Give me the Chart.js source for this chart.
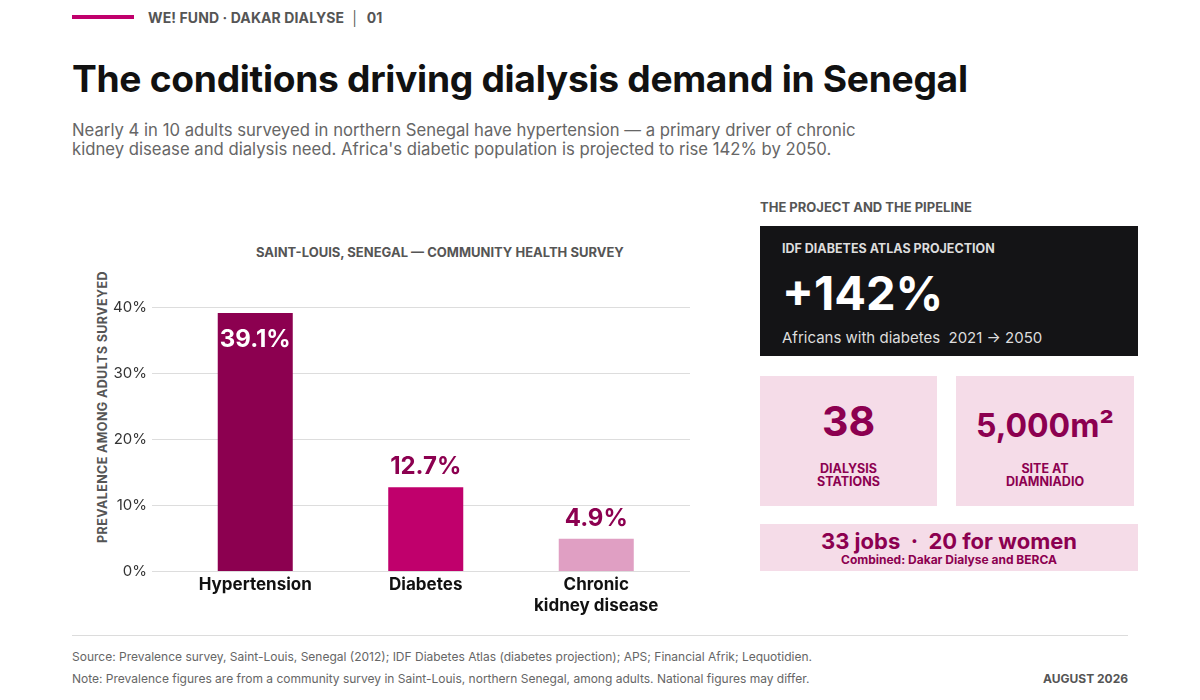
<!DOCTYPE html>
<html>
<head>
<meta charset="utf-8">
<script src="https://cdn.jsdelivr.net/npm/chart.js@4.4.1/dist/chart.umd.min.js"></script>
<style>
  body { margin:0; width:1200px; height:700px; background:#fff; font-family:Inter, "Noto Sans", sans-serif; position:relative; overflow:hidden; }
  .abs { position:absolute; }
  .kicker-bar { left:72px; top:15px; width:62px; height:4px; background:#c0006c; }
  .kicker { left:148px; top:9px; font-size:14px; font-weight:700; color:#555; letter-spacing:0.1px; }
  h1 { position:absolute; left:72px; top:56px; margin:0; font-size:37.2px; font-weight:700; color:#111; letter-spacing:-0.3px; }
  .sub { left:72px; top:121px; font-size:16.7px; line-height:19px; color:#666; width:820px; }
  .ctitle { left:256px; top:244px; font-size:13px; font-weight:700; color:#555; }
  .ytitle { left:102px; top:407px; font-size:12.5px; font-weight:700; color:#555; letter-spacing:0.4px; transform:translate(-50%,-50%) rotate(-90deg); white-space:nowrap; }
  .ptitle { left:760px; top:199px; font-size:13px; font-weight:700; color:#555; }
  .dark { left:760px; top:226px; width:378px; height:130px; background:#141416; }
  .pink { background:#f5dce8; color:#8c0050; text-align:center; font-weight:700; }
  .foot-line { left:72px; top:635px; width:1056px; height:1px; background:#dcdcdc; }
  .foot { left:72px; font-size:12px; color:#666; }
</style>
</head>
<body>
<div class="abs kicker-bar"></div>
<div class="abs kicker">WE! FUND · DAKAR DIALYSE &nbsp;│&nbsp; 01</div>
<h1>The conditions driving dialysis demand in Senegal</h1>
<div class="abs sub">Nearly 4 in 10 adults surveyed in northern Senegal have hypertension — a primary driver of chronic<br>kidney disease and dialysis need. Africa's diabetic population is projected to rise 142% by 2050.</div>

<div class="abs ctitle">SAINT-LOUIS, SENEGAL — COMMUNITY HEALTH SURVEY</div>
<div class="abs ytitle">PREVALENCE AMONG ADULTS SURVEYED</div>
<div class="abs" style="left:72px;top:230px;width:640px;height:410px;"><canvas id="chart"></canvas></div>

<div class="abs ptitle">THE PROJECT AND THE PIPELINE</div>
<div class="abs dark">
  <div class="abs" style="left:22px;top:15px;font-size:12.5px;font-weight:700;color:#ddd;">IDF DIABETES ATLAS PROJECTION</div>
  <div class="abs" style="left:22px;top:38px;font-size:47px;font-weight:700;color:#fff;">+142%</div>
  <div class="abs" style="left:22px;top:102px;font-size:15px;color:#ddd;">Africans with diabetes&nbsp; 2021 → 2050</div>
</div>
<div class="abs pink" style="left:760px;top:376px;width:177px;height:130px;">
  <div style="margin-top:22px;font-size:41px;line-height:46px;">38</div>
  <div style="margin-top:18px;font-size:12.5px;line-height:13px;">DIALYSIS<br>STATIONS</div>
</div>
<div class="abs pink" style="left:956px;top:376px;width:178px;height:130px;">
  <div style="margin-top:30px;font-size:32px;line-height:40px;">5,000m²</div>
  <div style="margin-top:16px;font-size:12.5px;line-height:13px;">SITE AT<br>DIAMNIADIO</div>
</div>
<div class="abs pink" style="left:760px;top:524px;width:378px;height:47px;">
  <div style="margin-top:4px;font-size:22px;line-height:26px;">33 jobs &nbsp;·&nbsp; 20 for women</div>
  <div style="font-size:12px;line-height:11px;">Combined: Dakar Dialyse and BERCA</div>
</div>

<div class="abs foot-line"></div>
<div class="abs foot" style="top:649px;">Source: Prevalence survey, Saint-Louis, Senegal (2012); IDF Diabetes Atlas (diabetes projection); APS; Financial Afrik; Lequotidien.</div>
<div class="abs foot" style="top:671px;">Note: Prevalence figures are from a community survey in Saint-Louis, northern Senegal, among adults. National figures may differ.</div>
<div class="abs foot" style="top:671px;left:auto;right:72px;font-weight:700;color:#555;">AUGUST 2026</div>

<script>
const conditions = [['Hypertension'], ['Diabetes'], ['Chronic', 'kidney disease']];
const prevalence = [39.1, 12.7, 4.9];
const barColors = ['#8c0050', '#c0006c', '#e09fc3'];
const yTicks = [0, 10, 20, 30, 40];

// grid lines a bit wider than the plot area, like the original
const wideGrid = {
  id: 'wideGrid',
  beforeDatasetsDraw(chart) {
    const { ctx, chartArea, scales } = chart;
    ctx.save();
    ctx.strokeStyle = '#dddddd';
    ctx.lineWidth = 1;
    for (const t of yTicks) {
      const y = Math.round(scales.y.getPixelForValue(t)) + 0.5;
      ctx.beginPath();
      ctx.moveTo(chartArea.left - 18, y);
      ctx.lineTo(chartArea.right + 8.5, y);
      ctx.stroke();
    }
    ctx.restore();
  }
};

const valueLabels = {
  id: 'valueLabels',
  afterDatasetsDraw(chart) {
    const { ctx } = chart;
    const meta = chart.getDatasetMeta(0);
    ctx.save();
    ctx.font = '700 24px Inter';
    ctx.textAlign = 'center';
    ctx.textBaseline = 'middle';
    meta.data.forEach((bar, i) => {
      const txt = prevalence[i].toFixed(1) + '%';
      if (i === 0) {
        ctx.fillStyle = '#ffffff';
        ctx.fillText(txt, bar.x, bar.y + 27);
      } else {
        ctx.fillStyle = '#8c0050';
        ctx.fillText(txt, bar.x, bar.y - 20);
      }
    });
    ctx.restore();
  }
};

new Chart(document.getElementById('chart'), {
  type: 'bar',
  data: {
    labels: conditions,
    datasets: [{
      data: prevalence,
      backgroundColor: barColors,
      borderWidth: 0,
      barPercentage: 0.44,
      categoryPercentage: 1
    }]
  },
  options: {
    responsive: true,
    maintainAspectRatio: false,
    animation: false,
    layout: { padding: { top: 77, right: 30.5, left: 0, bottom: 0 } },
    plugins: { legend: { display: false }, tooltip: { enabled: false } },
    scales: {
      x: {
        grid: { display: false },
        border: { display: false },
        ticks: { color: '#111', font: { family: 'Inter', size: 17, weight: '700', lineHeight: 1.2 }, padding: -4, maxRotation: 0 },
        afterFit: (s) => { s.height = 69; }
      },
      y: {
        min: 0, max: 40,
        grid: { display: false },
        border: { display: false },
        ticks: {
          stepSize: 10, padding: 15, color: '#333',
          font: { family: 'Inter', size: 15 },
          callback: (v) => v + '%'
        },
        afterFit: (s) => { s.width = 98; }
      }
    }
  },
  plugins: [wideGrid, valueLabels]
});
</script>
</body>
</html>
